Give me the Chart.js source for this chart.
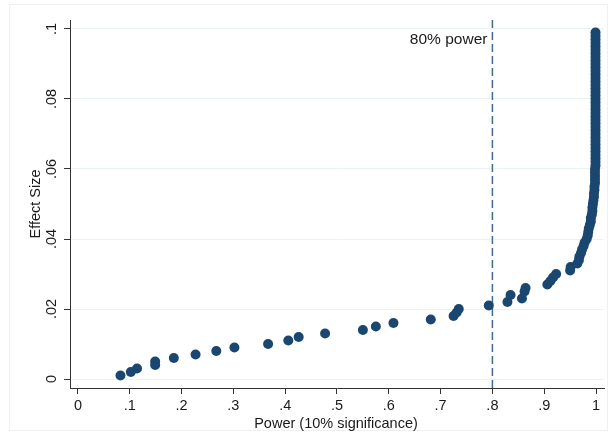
<!DOCTYPE html>
<html>
<head>
<meta charset="utf-8">
<script src="https://cdn.jsdelivr.net/npm/chart.js@4/dist/chart.umd.min.js"></script>
<style>
  html, body { margin: 0; padding: 0; background: #fff; }
  #wrap { width: 610px; height: 433px; position: relative; }
</style>
</head>
<body>
<div id="wrap"><canvas id="powerChart" width="610" height="433"></canvas></div>
<script>
// effect sizes (y) and simulated power (x)
var effectSize = [
  0.001, 0.002, 0.003, 0.004, 0.005, 0.006, 0.007, 0.008, 0.009, 0.010,
  0.011, 0.012, 0.013, 0.014, 0.015, 0.016, 0.017, 0.018, 0.019, 0.020,
  0.021, 0.022, 0.023, 0.024, 0.025, 0.026, 0.027, 0.028, 0.029, 0.030,
  0.031, 0.032, 0.033, 0.034, 0.035, 0.036, 0.037, 0.038, 0.039, 0.040,
  0.041, 0.042, 0.043, 0.044, 0.045, 0.046, 0.047, 0.048, 0.049, 0.050,
  0.051, 0.052, 0.053, 0.054, 0.055, 0.056, 0.057, 0.058, 0.059, 0.060,
  0.061, 0.062, 0.063, 0.064, 0.065, 0.066, 0.067, 0.068, 0.069, 0.070,
  0.071, 0.072, 0.073, 0.074, 0.075, 0.076, 0.077, 0.078, 0.079, 0.080,
  0.081, 0.082, 0.083, 0.084, 0.085, 0.086, 0.087, 0.088, 0.089, 0.090,
  0.091, 0.092, 0.093, 0.094, 0.095, 0.096, 0.097, 0.098, 0.099
];
var power = [
  0.082, 0.102, 0.114, 0.149, 0.149, 0.185, 0.227, 0.267, 0.302, 0.367,
  0.406, 0.426, 0.477, 0.550, 0.575, 0.609, 0.681, 0.725, 0.731, 0.735,
  0.793, 0.829, 0.857, 0.835, 0.862, 0.864, 0.906, 0.912, 0.917, 0.923,
  0.950, 0.951, 0.964, 0.967, 0.968, 0.971, 0.973, 0.976, 0.978, 0.982,
  0.984, 0.985, 0.986, 0.988, 0.990, 0.990, 0.992, 0.993, 0.993, 0.994,
  0.995, 0.996, 0.996, 0.997, 0.997, 0.998, 0.998, 0.998, 0.998, 0.998,
  0.999, 0.999, 0.999, 0.999, 0.999, 0.999, 0.999, 0.999, 0.999, 0.999,
  0.999, 0.999, 0.999, 0.999, 0.999, 0.999, 0.999, 0.999, 0.999, 0.999,
  0.999, 0.999, 0.999, 0.999, 0.999, 0.999, 0.999, 0.999, 0.999, 0.999,
  0.999, 0.999, 0.999, 0.999, 0.999, 0.999, 0.999, 0.999, 0.999
];
var xTicks = [0, 0.1, 0.2, 0.3, 0.4, 0.5, 0.6, 0.7, 0.8, 0.9, 1];
var yTicks = [0, 0.02, 0.04, 0.06, 0.08, 0.1];
var powerTarget = 0.8;
var targetLabel = "80% power";

// stata style number: .02 instead of 0.02
function stataNum(v) {
  var s = String(Math.round(v * 1000) / 1000);
  if (s === '0') return '0';
  return s.replace(/^0\./, '.');
}

var points = effectSize.map(function (e, i) { return { x: power[i], y: e }; });

var fontFam = "'Liberation Sans', Arial, sans-serif";
var textCol = '#1a1a1a';

var stataPlugin = {
  id: 'stataBits',
  beforeDraw: function (chart) {
    var c = chart.ctx;
    c.save();
    c.fillStyle = '#fff';
    c.fillRect(0, 0, chart.width, chart.height);
    c.strokeStyle = '#f0f0f0';
    c.lineWidth = 1;
    c.strokeRect(9.5, 4.5, 598, 426);
    c.restore();
  },
  afterDraw: function (chart) {
    var c = chart.ctx;
    var ys = chart.scales.y, xs = chart.scales.x;
    c.save();
    c.fillStyle = textCol;
    c.font = '14.5px ' + fontFam;
    c.textAlign = 'center';
    c.textBaseline = 'middle';
    // rotated y tick labels
    yTicks.forEach(function (v) {
      c.save();
      c.translate(52, ys.getPixelForValue(v));
      c.rotate(-Math.PI / 2);
      c.fillText(stataNum(v), 0, 0);
      c.restore();
    });
    // y title
    c.save();
    c.translate(36, (chart.chartArea.top + chart.chartArea.bottom) / 2);
    c.rotate(-Math.PI / 2);
    c.fillText('Effect Size', 0, 0);
    c.restore();
    // x title
    c.fillText('Power (10% significance)', (chart.chartArea.left + chart.chartArea.right) / 2 - 1, 424);
    // label for the dashed line
    c.font = '15.5px ' + fontFam;
    c.textAlign = 'right';
    c.fillText(targetLabel, xs.getPixelForValue(powerTarget) - 5, ys.getPixelForValue(0.097));
    c.restore();
  }
};

var ctx = document.getElementById('powerChart').getContext('2d');
var myChart = new Chart(ctx, {
  type: 'scatter',
  data: {
    datasets: [{
      type: 'line',
      data: [{ x: powerTarget, y: -0.00257 }, { x: powerTarget, y: 0.10257 }],
      borderColor: '#3f6a90',
      borderWidth: 1.5,
      borderDash: [8, 4],
      pointRadius: 0,
      fill: false,
      order: 2
    }, {
      data: points,
      backgroundColor: '#1a476f',
      borderColor: '#1a476f',
      borderWidth: 0,
      pointRadius: 5,
      order: 1
    }]
  },
  options: {
    responsive: false,
    animation: false,
    layout: { padding: { left: 0, top: 20, right: 6, bottom: 0 } },
    plugins: {
      legend: { display: false },
      tooltip: { enabled: false },
      title: { display: false }
    },
    scales: {
      x: {
        type: 'linear',
        min: -0.0154,
        max: 1.0154,
        afterBuildTicks: function (scale) {
          scale.ticks = xTicks.map(function (v) { return { value: v }; });
        },
        afterFit: function (scale) { scale.height = 45; },
        border: { display: true, color: '#333', width: 1 },
        grid: { drawOnChartArea: false, color: 'rgba(0,0,0,0)', tickColor: '#333', tickLength: 6 },
        ticks: {
          color: textCol,
          font: { family: fontFam, size: 14.5 },
          padding: 3,
          maxRotation: 0,
          autoSkip: false,
          callback: function (v) { return stataNum(v); }
        }
      },
      y: {
        type: 'linear',
        min: -0.00257,
        max: 0.10257,
        afterBuildTicks: function (scale) {
          scale.ticks = yTicks.map(function (v) { return { value: v }; });
        },
        afterFit: function (scale) { scale.width = 70; },
        border: { display: true, color: '#333', width: 1 },
        grid: { color: '#eaf2f3', tickColor: '#333', tickLength: 6, lineWidth: 1 },
        ticks: { display: false }
      }
    }
  },
  plugins: [stataPlugin]
});
</script>
</body>
</html>
